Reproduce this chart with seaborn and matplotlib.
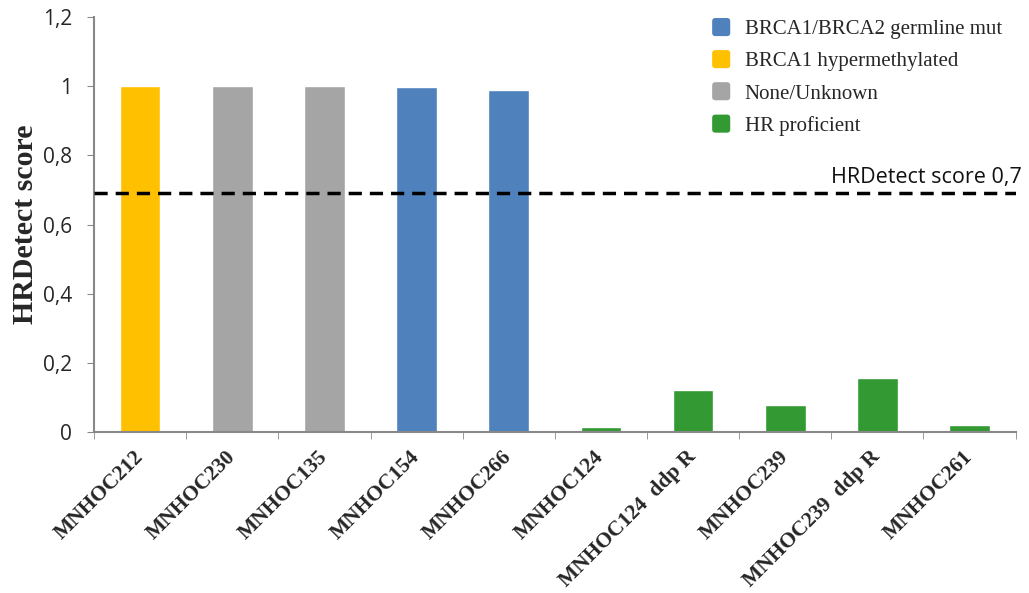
import seaborn as sns
import matplotlib.pyplot as plt
import pandas as pd
import numpy as np
from matplotlib.patches import FancyBboxPatch
from matplotlib.legend_handler import HandlerPatch

samples = ["MNHOC212", "MNHOC230", "MNHOC135", "MNHOC154", "MNHOC266",
           "MNHOC124", "MNHOC124  ddp R", "MNHOC239", "MNHOC239  ddp R", "MNHOC261"]
scores = [1.0, 1.0, 1.0, 0.998, 0.988, 0.014, 0.121, 0.078, 0.156, 0.02]
status = ["BRCA1 hypermethylated", "None/Unknown", "None/Unknown",
          "BRCA1/BRCA2 germline mut", "BRCA1/BRCA2 germline mut",
          "HR proficient", "HR proficient", "HR proficient", "HR proficient", "HR proficient"]
legend_order = ["BRCA1/BRCA2 germline mut", "BRCA1 hypermethylated", "None/Unknown", "HR proficient"]
colors = ["#4F81BD", "#FFC000", "#A5A5A5", "#339933"]
threshold = 0.69
yticks = [0, 0.2, 0.4, 0.6, 0.8, 1.0, 1.2]
yticklabels = ["0", "0,2", "0,4", "0,6", "0,8", "1", "1,2"]

df = pd.DataFrame({"sample": samples, "score": scores, "status": status})

sns.set_style("white")
plt.rcParams['font.family'] = ['Open Sans', 'DejaVu Sans']

fig = plt.figure(figsize=(10.29, 5.93), dpi=100)
ax = fig.add_axes([0.0914, 0.2715, 0.8956, 0.6995])

sns.barplot(data=df, x="sample", y="score", hue="status", hue_order=legend_order,
            palette=colors, saturation=1, dodge=False, width=0.44, ax=ax, legend=False)

# threshold line + its label
ax.axhline(threshold, color="black", lw=2.5, ls=(0, (3.8, 2.3)), zorder=5)
ax.text(1.0065, threshold + 0.017, "HRDetect score 0,7", transform=ax.get_yaxis_transform(),
        ha="right", va="bottom", fontsize=15.5, color="#111111", clip_on=False)

ax.set_xlim(-0.5, len(samples) - 0.5)
ax.set_ylim(0, 1.2)
ax.set_yticks(yticks)
ax.set_yticklabels(yticklabels, fontsize=15)
ax.tick_params(axis="y", length=5, color="#888888", direction="out", left=True, pad=11)

ax.set_xticks(np.arange(len(samples)))
ax.set_xticklabels(samples, rotation=45, ha="right", va="center", rotation_mode="anchor",
                   fontsize=15.5, fontweight="bold", family="Liberation Serif")
ax.tick_params(axis="x", which="major", length=0, pad=16)
ax.set_xticks(np.arange(len(samples) + 1) - 0.5, minor=True)
ax.tick_params(axis="x", which="minor", length=5, color="#888888", direction="out", bottom=True)

for side in ["top", "right"]:
    ax.spines[side].set_visible(False)
for side in ["left", "bottom"]:
    ax.spines[side].set_color("#888888")
    ax.spines[side].set_linewidth(1.5)

ax.set_xlabel("")
ax.set_ylabel("HRDetect score", fontsize=21.5, fontweight="bold", family="Liberation Serif")
ax.yaxis.set_label_coords(-0.060, 0.5)


class RoundSquare(HandlerPatch):
    def create_artists(self, legend, orig_handle, xdescent, ydescent, width, height, fontsize, trans):
        s = height * 1.24
        p = FancyBboxPatch((-xdescent + (width - s) / 2, -ydescent + (height - s) / 2), s, s,
                           boxstyle="round,pad=0,rounding_size=%f" % (s * 0.18),
                           facecolor=orig_handle.get_facecolor(), edgecolor="none", transform=trans)
        return [p]


handles = [plt.Rectangle((0, 0), 1, 1, facecolor=c) for c in colors]
leg = ax.legend(handles, legend_order, loc="upper left", bbox_to_anchor=(0.650, 1.039),
                frameon=False, handler_map={plt.Rectangle: RoundSquare()},
                prop={"family": "Liberation Serif", "size": 15}, handlelength=0.9,
                handletextpad=0.67, labelspacing=0.6)

fig.savefig("out.png", dpi=100)
